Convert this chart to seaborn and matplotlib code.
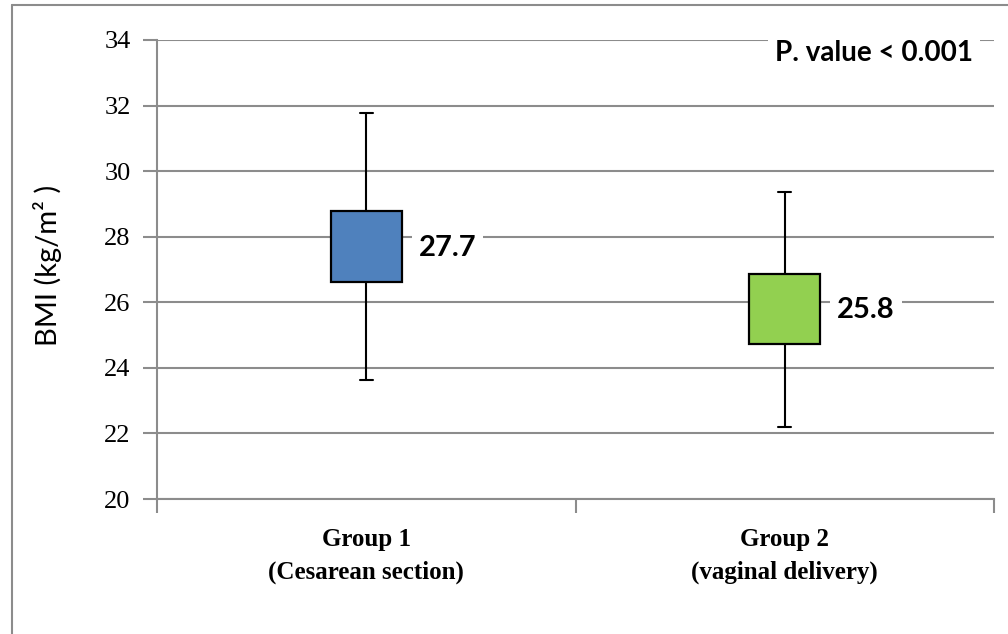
import matplotlib
matplotlib.use("Agg")
import matplotlib.pyplot as plt
from matplotlib.lines import Line2D
import seaborn as sns

# values
groups = ["Group 1\n(Cesarean section)", "Group 2\n(vaginal delivery)"]
means = [27.7, 25.8]
box_low = [26.62, 24.72]
box_high = [28.78, 26.86]
whisker_low = [23.62, 22.21]
whisker_high = [31.78, 29.36]
colors = ["#4F81BD", "#92D050"]
yticks = [20, 22, 24, 26, 28, 30, 32, 34]
p_text = "P. value < 0.001"

sns.set_theme(style="white")
grid_col = "#8c8c8c"

fig = plt.figure(figsize=(10.08, 6.34), dpi=100, facecolor="white")
ax = fig.add_axes([157 / 1008, 1 - 499 / 634, 837 / 1008, 459 / 634])

stats = []
for i, g in enumerate(groups):
    stats.append(dict(label=g, med=means[i], q1=box_low[i], q3=box_high[i],
                      whislo=whisker_low[i], whishi=whisker_high[i], fliers=[]))

bp = ax.bxp(stats, positions=range(len(groups)), widths=0.17, capwidths=0.032,
            showfliers=False, patch_artist=True,
            boxprops=dict(edgecolor="black", linewidth=1.6),
            whiskerprops=dict(color="black", linewidth=1.5),
            capprops=dict(color="black", linewidth=1.5),
            medianprops=dict(linewidth=0, alpha=0))
for patch, c in zip(bp["boxes"], colors):
    patch.set_facecolor(c)
    patch.set_zorder(3)
for ln in bp["whiskers"] + bp["caps"]:
    ln.set_zorder(2.5)

# value labels right of each box
for i, m in enumerate(means):
    ax.text(i + 0.125, m - 0.05, f"{m}", ha="left", va="center", fontsize=21,
            fontweight="bold", family="Lato", color="black", zorder=4,
            bbox=dict(facecolor="white", edgecolor="none", pad=5))

ax.text(0.975, 0.972, p_text, transform=ax.transAxes, ha="right", va="center",
        fontsize=20, fontweight="bold", family="Lato", color="black", zorder=4,
        bbox=dict(facecolor="white", edgecolor="none", pad=5))

ax.set_xlim(-0.5, len(groups) - 0.5)
ax.set_ylim(20, 34)
ax.set_yticks(yticks)
ax.set_yticklabels([str(t) for t in yticks], family="Liberation Serif", fontsize=19)
ax.yaxis.grid(True, color=grid_col, linewidth=1.5)
ax.set_axisbelow(True)

ax.set_xticks(range(len(groups)))
ax.set_xticklabels(groups, family="Liberation Serif", fontsize=18,
                   fontweight="bold", linespacing=1.5)
ax.set_xticks([-0.5, 0.5, 1.5], minor=True)
ax.tick_params(axis="x", which="major", length=0, pad=21, labelcolor="black")
ax.tick_params(axis="x", which="minor", length=10, width=1.5, color=grid_col,
               direction="out", bottom=True)
ax.tick_params(axis="y", length=10, width=1.5, color=grid_col, direction="out",
               left=True, pad=9, labelcolor="black")

for side in ["top", "right"]:
    ax.spines[side].set_visible(False)
for side in ["left", "bottom"]:
    ax.spines[side].set_color(grid_col)
    ax.spines[side].set_linewidth(1.5)

ax.set_ylabel("BMI (kg/m² )", family="Lato", fontsize=21, color="black")
ax.yaxis.set_label_coords(-0.114, 0.51)

# outer chart border (only left and top edges visible in reference)
fig.add_artist(Line2D([12 / 1008, 12 / 1008], [0, 1 - 5 / 634], color=grid_col,
                      linewidth=1.5, transform=fig.transFigure))
fig.add_artist(Line2D([12 / 1008, 1], [1 - 5 / 634, 1 - 5 / 634], color=grid_col,
                      linewidth=1.5, transform=fig.transFigure))

fig.savefig("out.png", dpi=100, facecolor="white")
